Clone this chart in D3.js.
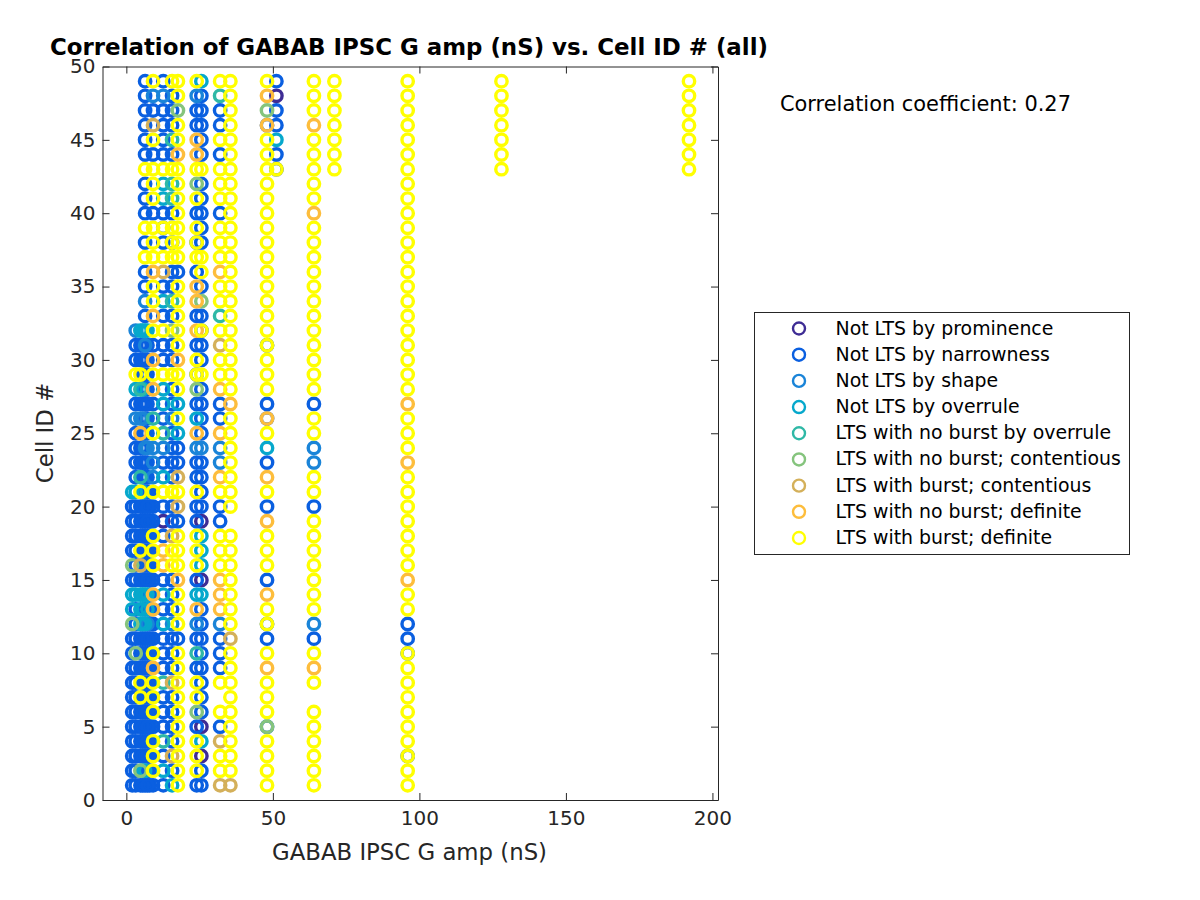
<!DOCTYPE html>
<html><head><meta charset="utf-8">
<script src="https://cdn.jsdelivr.net/npm/d3@7"></script>
<style>html,body{margin:0;background:#fff}svg{display:block}text{font-family:"DejaVu Sans",sans-serif}</style>
</head><body><svg id="c" width="1200" height="900"></svg>
<script>
const chartTitle = "Correlation of GABAB IPSC G amp (nS) vs. Cell ID # (all)";
const xLabel = "GABAB IPSC G amp (nS)";
const yLabel = "Cell ID #";
const note = "Correlation coefficient: 0.27";
const xTicks = [0, 50, 100, 150, 200];
const yTicks = [0, 5, 10, 15, 20, 25, 30, 35, 40, 45, 50];
const classCodes = ["P","N","S","O","B","C","T","D","Y"];
const classNames = ["Not LTS by prominence","Not LTS by narrowness","Not LTS by shape","Not LTS by overrule","LTS with no burst by overrule","LTS with no burst; contentious","LTS with burst; contentious","LTS with no burst; definite","LTS with burst; definite"];
const classColors = ["#3e2c94","#0a5fe0","#1a84d8","#06a8cc","#2fb8a6","#85c47d","#d4b05a","#fdbd3c","#ffff00"];
const columnX = [2,3.2,4.8,6.4,8,9.1,12.6,15.6,17.6,24,25.6,32,35.5,48,51.2,64,71,96,128,192];
const cellIDs = [49,48,47,46,45,44,43,42,41,40,39,38,37,36,35,34,33,32,31,30,29,28,27,26,25,24,23,22,21,20,19,18,17,16,15,14,13,12,11,10,9,8,7,6,5,4,3,2,1];
// one string per cell id, one letter per column; lower case = ring stacked over a narrowness ring
const cellClasses = [
"...N.YNYY YO YY YN YY YYY",
"...N.SSNY SN BY DP YY YYY",
"...N.NNNC NN NY CN YY YYY",
"...N.TNNY NN NY dN DY YYY",
"...N.YNBY DN YY YO YY YYY",
"...N.NNND DN NY YN YY YYY",
"...Y.YYYY YY YY Yy YY YYY",
"...N.YOBY CN YY Y. Y. Y..",
"...N.YOBY YN YY Y. Y. Y..",
"...N.NNNY NN NY Y. D. Y..",
"...Y.YyYY YN YY Y. Y. Y..",
"...N.YNyY yN YY Y. Y. Y..",
"...Y.YYYY YY YY Y. Y. Y..",
"...N.DTNN NY DY Y. Y. Y..",
"...N.YNNY DN YY Y. Y. Y..",
"...S.YOBY DC YY Y. Y. Y..",
"...N.DNNY NN BY Y. Y. Y..",
".SOO.YYCY Dy YY Y. Y. Y..",
".NNS.NNNY NN TY y. Y. Y..",
".NNN.DNND YN YY Y. Y. Y..",
".YYN.YYYY yY YY Y. Y. Y..",
".OBN.DONY CN DY Y. Y. Y..",
".NNN.NONO NN ND N. N. D..",
".SSN.BNSY ON NY d. Y. Y..",
".NDN.YBNO DN DY Y. Y. Y..",
".NNS.SSNN SS SY O. S. Y..",
".NNN.SNNN NN SY N. S. D..",
".NBN.SONT NN DY D. Y. Y..",
"OOYNNYYYY YN YY Y. Y. Y..",
"NNNNNNNNT NN NY N. N. Y..",
"NNNNNNPNN NP N. D. Y. Y..",
"NNNNNYNTY YO YY Y. Y. Y..",
"NNYNNYDYY YO YY Y. Y. Y..",
"CNTNNYDYY YO YY Y. Y. Y..",
"NNNNNNNND NP DY N. Y. D..",
"OOOONDONY OO DY D. Y. Y..",
"ONONNDNNY DN DY Y. Y. Y..",
"CNOONNOSY SN SY y. S. N..",
"NNNNNNNNN NN NT N. N. N..",
"NCNNNYNNY BN NY Y. Y. y..",
"NNNNNDNNY NN NY D. D. Y..",
"NNYNNYBTY YN YY Y. Y. Y..",
"NNYNNYNNY YN .Y Y. .. Y..",
"NNNNNYNNY CN YY Y. Y. Y..",
"NNNNNNNNY NP NY c. Y. Y..",
"NNNNNYBNY YO TY Y. Y. Y..",
"NNNNNYNTY YP YY Y. Y. y..",
"NNCONYONY YN YY Y. Y. Y..",
"NNNNNNNOY NN TT Y. Y. Y.."
];
// the dense left cluster: two further conductances that only some cells have
const extraColumnX = [5.6, 7.2];
const extraClasses = ["..","..","..","..","..","..","..","..","..","..","..","..","..","..","..","..","..",
"OO","NN","NN","NN","ON","NN","SN","NN","NS","NN","NN","ON","NN","NN","NN","NN","NN","NN","OO","OO","OS","NN","NN","NN","NN","NN","NN","NN","NN","NN","ON","NN"];

const svg = d3.select("#c");
const ink = "#262626";
const L=102.5,R=718,T=66.5,B=800;
const x = d3.scaleLinear().domain([-8.14,201.9]).range([L,R]);
const y = d3.scaleLinear().domain([0,50]).range([B,T]);

// points
const pts = [];
function addPoints(rows,cols){
  rows.forEach((s,i)=>{
    s.replace(/ /g,"").split("").forEach((ch,j)=>{
      if(ch===".") return;
      const up = ch.toUpperCase();
      if(ch!==up) pts.push({x:cols[j],y:cellIDs[i],k:classCodes.indexOf("N")});
      pts.push({x:cols[j],y:cellIDs[i],k:classCodes.indexOf(up)});
    });
  });
}
addPoints(cellClasses,columnX);
addPoints(extraClasses,extraColumnX);
pts.sort((a,b)=>d3.ascending(a.k,b.k));
svg.append("g").selectAll("circle").data(pts).join("circle")
  .attr("cx",d=>x(d.x)).attr("cy",d=>y(d.y)).attr("r",5.7)
  .attr("fill","none").attr("stroke",d=>classColors[d.k]).attr("stroke-width",3.4);

// axes
const axes = svg.append("g");
function styleAxis(g){
  g.select(".domain").attr("stroke",ink).attr("stroke-width",1);
  g.selectAll(".tick line").attr("stroke",ink).attr("stroke-width",1);
  g.selectAll("text").attr("fill",ink).attr("font-size",20).attr("font-family",'"DejaVu Sans"');
}
axes.append("g").attr("transform",`translate(0,${B})`)
  .call(d3.axisBottom(x).tickValues(xTicks).tickSizeInner(-7).tickSizeOuter(0).tickPadding(11)).call(styleAxis);
axes.append("g").attr("transform",`translate(${L},0)`)
  .call(d3.axisLeft(y).tickValues(yTicks).tickSizeInner(-7).tickSizeOuter(0).tickPadding(7)).call(styleAxis);
axes.append("g").attr("transform",`translate(0,${T})`)
  .call(d3.axisTop(x).tickValues(xTicks).tickSizeInner(-7).tickSizeOuter(0).tickFormat("")).call(styleAxis);
axes.append("g").attr("transform",`translate(${R},0)`)
  .call(d3.axisRight(y).tickValues(yTicks).tickSizeInner(-7).tickSizeOuter(0).tickFormat("")).call(styleAxis);

svg.append("text").attr("x",50).attr("y",55).attr("font-size",22.9).attr("font-weight","bold").attr("fill","#000").text(chartTitle);
svg.append("text").attr("x",409.5).attr("y",860).attr("text-anchor","middle").attr("font-size",22.8).attr("fill",ink).text(xLabel);
svg.append("text").attr("transform","translate(53,433) rotate(-90)").attr("text-anchor","middle").attr("font-size",22.8).attr("fill",ink).text(yLabel);
svg.append("text").attr("x",780).attr("y",111).attr("font-size",20.9).attr("fill","#000").text(note);

// legend
const lg = svg.append("g");
lg.append("rect").attr("x",754.5).attr("y",312.5).attr("width",375).attr("height",242).attr("fill","#fff").attr("stroke",ink).attr("stroke-width",1);
const ly = d3.scalePoint().domain(classNames).range([328.5,538]);
classNames.forEach((n,i)=>{
  lg.append("circle").attr("cx",799).attr("cy",ly(n)).attr("r",6).attr("fill","none").attr("stroke",classColors[i]).attr("stroke-width",2.4);
  lg.append("text").attr("x",835.5).attr("y",ly(n)+6).attr("font-size",18.9).attr("fill","#000").text(n);
});
</script></body></html>
